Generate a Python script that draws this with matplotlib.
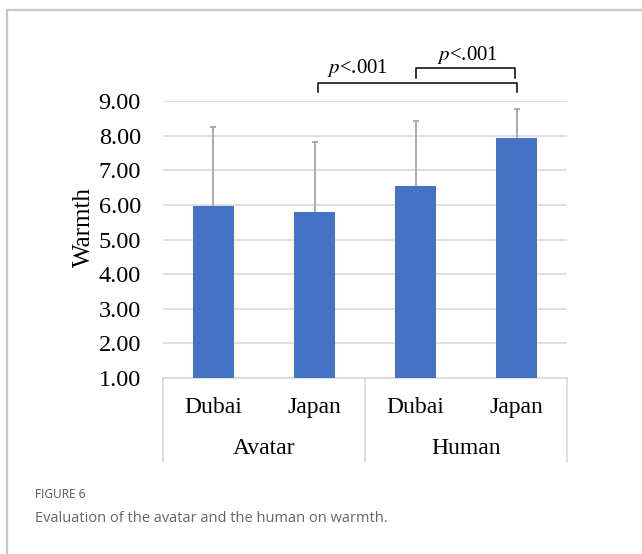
import matplotlib.pyplot as plt
import matplotlib.transforms as mtransforms
from matplotlib.lines import Line2D

# Mean warmth ratings with SD (upper bar only)
sites = ["Dubai", "Japan", "Dubai", "Japan"]
groups = ["Avatar", "Human"]
means = [5.97, 5.78, 6.54, 7.93]
sds = [2.27, 2.04, 1.89, 0.84]
yticks = [1, 2, 3, 4, 5, 6, 7, 8, 9]

serif = "Liberation Serif"
bar_color = "#4472C4"
grid_color = "#d9d9d9"

fig = plt.figure(figsize=(6.42, 5.54), dpi=100)
ax = fig.add_axes([163 / 642, 1 - 378 / 554, 404 / 642, 277 / 554])

x = list(range(len(means)))
ax.bar(x, means, width=0.4, color=bar_color, zorder=3, edgecolor="none")
_, caps, _ = ax.errorbar(x, means, yerr=[[0] * len(sds), sds], fmt="none",
                         ecolor="#a5a5a5", elinewidth=1.3, capsize=2.5,
                         capthick=1.3, zorder=4)
caps[0].set_visible(False)  # no cap at the bar top

ax.set_xlim(-0.5, 3.5)
ax.set_ylim(1, 9)
ax.set_yticks(yticks)
ax.set_yticklabels([f"{v:.2f}" for v in yticks], fontfamily=serif, fontsize=17.5)
ax.yaxis.grid(True, color=grid_color, linewidth=1.2, zorder=0)
ax.tick_params(axis="y", length=0, pad=16)
ax.tick_params(axis="x", length=0)
ax.set_xticks([])
for s in ["top", "right", "left"]:
    ax.spines[s].set_visible(False)
ax.spines["bottom"].set_color(grid_color)
ax.spines["bottom"].set_linewidth(1.2)

fig.text(84 / 642, 1 - 227 / 554, "Warmth", rotation=90, ha="center", va="center",
         fontfamily=serif, fontsize=18)

# two-level category axis
trans = mtransforms.blended_transform_factory(ax.transData, ax.transAxes)
for xv in [-0.5, 1.5, 3.5]:
    ax.add_line(Line2D([xv, xv], [0, -84 / 277], transform=trans, color=grid_color,
                       linewidth=1.2, clip_on=False))
for xi, name in zip(x, sites):
    ax.text(xi, -(413 - 378) / 277, name, transform=trans, ha="center", va="baseline",
            fontfamily=serif, fontsize=17)
for gi, name in enumerate(groups):
    ax.text(gi * 2 + 0.5, -(454 - 378) / 277, name, transform=trans, ha="center",
            va="baseline", fontfamily=serif, fontsize=17)

# significance brackets
def bracket(x0, x1, xt, y_top, y_bot, text_y):
    ax.add_line(Line2D([x0, x0, x1, x1], [y_bot, y_top, y_top, y_bot],
                       transform=trans, color="black", linewidth=1.1, clip_on=False))
    ax.text(xt, text_y, "$p$<.001", transform=trans,
            ha="center", va="center", fontfamily=serif, fontsize=15,
            math_fontfamily="stix")

bracket(1.03, 3.0, 1.43, (378 - 83) / 277, (378 - 92) / 277, (378 - 68) / 277)
bracket(2.0, 2.99, 2.52, (378 - 68) / 277, (378 - 78) / 277, (378 - 55) / 277)

# caption
fig.text(35 / 642, 1 - 495 / 554, "FIGURE 6", fontfamily="Open Sans", fontsize=8.6,
         color="#555555", va="center")
fig.text(35 / 642, 1 - 519 / 554, "Evaluation of the avatar and the human on warmth.",
         fontfamily="Open Sans", fontsize=10.5, color="#666666", va="center")

# outer frame
fig.add_artist(Line2D([7 / 642, 7 / 642, 1.0], [0, 1 - 10 / 554, 1 - 10 / 554],
                      transform=fig.transFigure, color="#c8c8c8", linewidth=1.6))

fig.savefig("out.png", dpi=100)
